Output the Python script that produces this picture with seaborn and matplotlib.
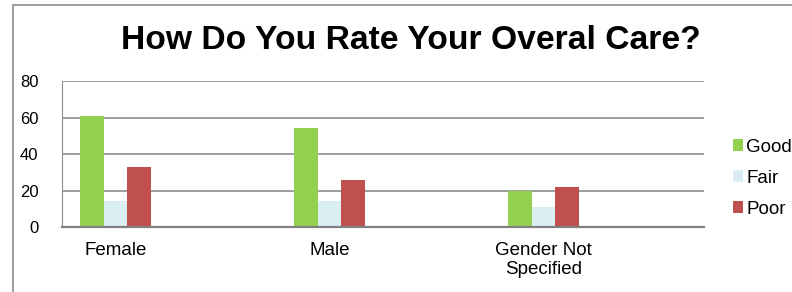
import pandas as pd
import matplotlib.pyplot as plt
import seaborn as sns
from matplotlib.patches import Rectangle

# chart data (Excel chart with spacer categories between the groups)
categories = ["Female", " ", "Male", "  ", "Gender Not\nSpecified", "   "]
good = [61, 0.5, 54, 0.5, 20, 0]
fair = [14, 0, 14, 0, 11, 0]
poor = [33, 0, 26, 0, 22, 0]
ratings = ["Good", "Fair", "Poor"]
colors = ["#92D050", "#DAEEF3", "#C0504D"]

df = pd.DataFrame({"Group": categories * 3,
                   "Rating": ["Good"] * 6 + ["Fair"] * 6 + ["Poor"] * 6,
                   "Count": good + fair + poor})

sns.set_style("white")
plt.rcParams["font.family"] = ["Liberation Sans", "DejaVu Sans"]
plt.rcParams["text.color"] = "black"
plt.rcParams["xtick.color"] = "black"
plt.rcParams["ytick.color"] = "black"

fig = plt.figure(figsize=(7.92, 2.92), dpi=100)
ax = fig.add_axes([0.0783, 0.2226, 0.8107, 0.5])

sns.barplot(data=df, x="Group", y="Count", hue="Rating", hue_order=ratings,
            palette=colors, width=0.665, saturation=1, ax=ax, legend=True,
            edgecolor="none")

ax.set_xlim(-0.5, 5.5)
ax.set_ylim(0, 80)
ax.set_yticks([0, 20, 40, 60, 80])
ax.yaxis.grid(True, color="#8c8c8c", linewidth=1.2)
ax.set_axisbelow(True)
ax.set_xlabel("")
ax.set_ylabel("")
for s in ["top", "right"]:
    ax.spines[s].set_visible(False)
ax.spines["left"].set_color("#8c8c8c")
ax.spines["bottom"].set_color("#808080")
ax.spines["bottom"].set_linewidth(1.6)
ax.tick_params(axis="y", length=0, pad=17, labelsize=12)
ax.tick_params(axis="x", length=0, pad=10.5, labelsize=13.5)
for lbl in ax.get_xticklabels():
    lbl.set_linespacing(1.2)

ax.legend(loc="center left", bbox_to_anchor=(0.9255, 0.39), bbox_transform=fig.transFigure,
          frameon=False, fontsize=13.5, handlelength=0.55, handleheight=0.55,
          handletextpad=0.15, labelspacing=0.75, borderaxespad=0, borderpad=0)

fig.text(0.519, 0.86, "How Do You Rate Your Overal Care?", ha="center", va="center",
         fontsize=24.2, fontweight="bold")

# outer chart frame
fig.patches.append(Rectangle((13 / 792, -0.1), 1.2, 1.1 - 5 / 292, transform=fig.transFigure,
                             fill=False, edgecolor="#8c8c8c", linewidth=1.2))

fig.savefig("out.png", dpi=100)
